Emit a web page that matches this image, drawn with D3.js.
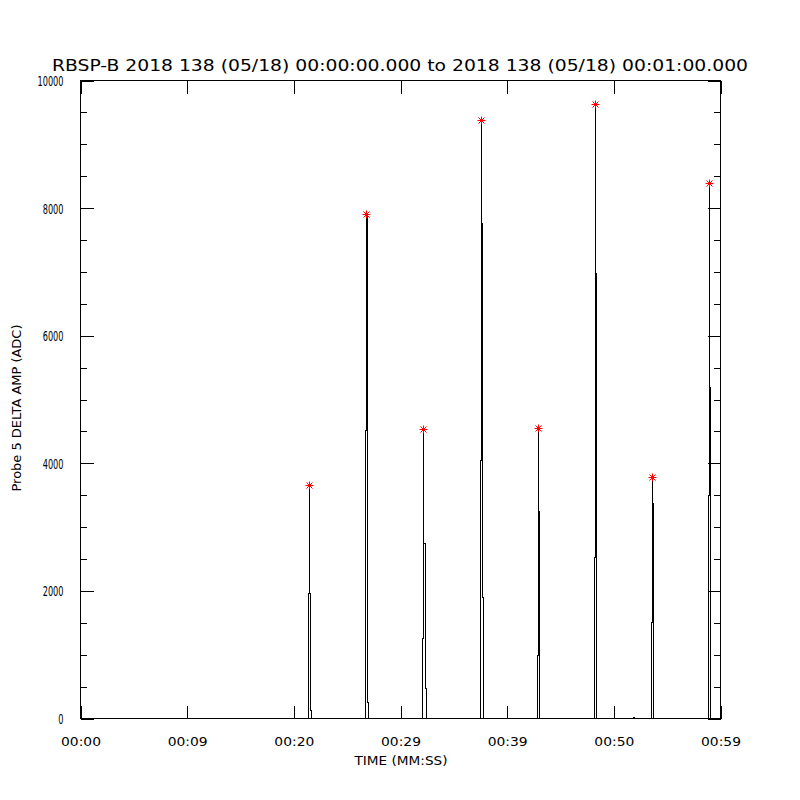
<!DOCTYPE html>
<html>
<head>
<meta charset="utf-8">
<script src="https://cdn.jsdelivr.net/npm/d3@7"></script>
<style>
  html, body { margin: 0; padding: 0; background: #ffffff; }
  svg text { font-family: "DejaVu Sans", sans-serif; fill: #000; }
</style>
</head>
<body>
<svg id="chart" width="800" height="800"></svg>
<script>
// ---- Data ----
const titleText = "RBSP-B 2018 138 (05/18) 00:00:00.000 to 2018 138 (05/18) 00:01:00.000";
const xAxisTitle = "TIME (MM:SS)";
const yAxisTitle = "Probe 5 DELTA AMP (ADC)";

const timeTickValues = [0, 10, 20, 30, 40, 50, 60];            // seconds
const timeTickLabels = ["00:00", "00:09", "00:20", "00:29", "00:39", "00:50", "00:59"];
const ampTickValues = [0, 2000, 4000, 6000, 8000, 10000];
const ampMinorTickValues = [500, 1000, 1500, 2500, 3000, 3500, 4500, 5000, 5500,
                            6500, 7000, 7500, 8500, 9000, 9500];

// burst peak times (s) and the sampled amplitudes around each burst
const burstTimes  = [21.50, 26.82, 32.20, 37.58, 42.90, 48.30, 53.60, 58.99];
const burstPeaks  = [3652, 7900, 4530, 9373, 4545, 9624, 3777, 8385];
const burstRise   = [1960, 4510, 1250, 4045, 990, 2520, 1500, 3500];   // level reached by the rising sample
const burstFall1  = [1960, 7900, 2740, 7760, 3250, 6975, 3370, 5190];  // first falling sample
const burstFall2  = [125, 250, 470, 1900, 0, 0, 0, 0];                 // second falling sample
// sample time offsets (s) from the peak time, in the order rise..fall
const burstOffsets = [-0.1, -0.1, 0, 0, 0, 0.1, 0.1, 0.2, 0.2];

const blipTimes  = [51.85, 51.95];
const blipValues = [20, 20];

// ---- Build the sampled series from the arrays ----
const series = [{t: 0, v: 0}];
burstTimes.forEach((t, i) => {
  const vals = [0, burstRise[i], burstRise[i], burstPeaks[i], burstFall1[i],
                burstFall1[i], burstFall2[i], burstFall2[i], 0];
  burstOffsets.forEach((o, k) => series.push({t: t + o, v: vals[k]}));
  if (i === 5) {
    series.push({t: blipTimes[0], v: 0});
    blipTimes.forEach((bt, j) => series.push({t: bt, v: blipValues[j]}));
    series.push({t: blipTimes[1], v: 0});
  }
});
series.push({t: 60, v: 0});
const peaks = burstTimes.map((t, i) => ({t: t, v: burstPeaks[i]}));

// ---- Layout ----
const plot = {left: 80, right: 720, top: 80, bottom: 718};
const majorLen = 13, minorLen = 6.5;

const svg = d3.select("#chart");
const x = d3.scaleLinear().domain([0, 60]).range([plot.left, plot.right]);
const y = d3.scaleLinear().domain([0, 10000]).range([plot.bottom, plot.top]);

const g = svg.append("g").attr("shape-rendering", "crispEdges");

// frame
g.append("rect")
  .attr("x", plot.left + 0.5).attr("y", plot.top + 0.5)
  .attr("width", plot.right - plot.left).attr("height", plot.bottom - plot.top)
  .attr("fill", "none").attr("stroke", "#000").attr("stroke-width", 1);

// axes via d3 axis generators (ticks pointing inward)
const xBottom = d3.axisBottom(x).tickValues(timeTickValues)
  .tickFormat((d, i) => timeTickLabels[i]).tickSizeInner(-majorLen).tickSizeOuter(0).tickPadding(18);
const xTop = d3.axisTop(x).tickValues(timeTickValues).tickFormat("").tickSizeInner(-majorLen).tickSizeOuter(0);
const yLeft = d3.axisLeft(y).tickValues(ampTickValues).tickFormat(d3.format("d"))
  .tickSizeInner(-majorLen).tickSizeOuter(0).tickPadding(17);
const yLeftMinor = d3.axisLeft(y).tickValues(ampMinorTickValues).tickFormat("").tickSizeInner(-minorLen).tickSizeOuter(0);
const yRight = d3.axisRight(y).tickValues(ampTickValues).tickFormat("").tickSizeInner(-majorLen).tickSizeOuter(0);
const yRightMinor = d3.axisRight(y).tickValues(ampMinorTickValues).tickFormat("").tickSizeInner(-minorLen).tickSizeOuter(0);

function styleAxis(sel) {
  sel.select(".domain").remove();
  sel.selectAll(".tick line").attr("stroke", "#000");
  sel.selectAll(".tick text").attr("fill", "#000").attr("font-family", "DejaVu Sans, sans-serif");
}

const gxb = g.append("g").attr("transform", `translate(0.5,${plot.bottom + 0.5})`).call(xBottom).call(styleAxis);
gxb.selectAll(".tick text").attr("font-size", 13).attr("textLength", 40).attr("lengthAdjust", "spacingAndGlyphs");
g.append("g").attr("transform", `translate(0.5,${plot.top + 0.5})`).call(xTop).call(styleAxis);
const gyl = g.append("g").attr("transform", `translate(${plot.left + 0.5},0.5)`).call(yLeft).call(styleAxis);
gyl.selectAll(".tick text").attr("font-size", 14).attr("dy", "0.36em")
  .attr("textLength", d => String(d).length * 5.2)
  .attr("lengthAdjust", "spacingAndGlyphs");
g.append("g").attr("transform", `translate(${plot.left + 0.5},0.5)`).call(yLeftMinor).call(styleAxis);
g.append("g").attr("transform", `translate(${plot.right + 0.5},0.5)`).call(yRight).call(styleAxis);
g.append("g").attr("transform", `translate(${plot.right + 0.5},0.5)`).call(yRightMinor).call(styleAxis);

// data line
const line = d3.line().x(d => Math.round(x(d.t)) + 0.5).y(d => y(d.v) + 0.5);
g.append("path").datum(series)
  .attr("d", line).attr("fill", "none").attr("stroke", "#000").attr("stroke-width", 1);

// red asterisk peak markers
const r = 4;
const stars = svg.append("g").selectAll("g.star").data(peaks).join("g")
  .attr("class", "star")
  .attr("transform", d => `translate(${Math.round(x(d.t)) + 0.5},${Math.round(y(d.v)) + 0.5})`);
[[-r, 0, r, 0], [0, -r, 0, r], [-r * 0.75, -r * 0.75, r * 0.75, r * 0.75], [-r * 0.75, r * 0.75, r * 0.75, -r * 0.75]]
  .forEach(s => stars.append("line")
    .attr("x1", s[0]).attr("y1", s[1]).attr("x2", s[2]).attr("y2", s[3])
    .attr("stroke", "#ff0000").attr("stroke-width", 1));

// titles
svg.append("text").attr("x", 400).attr("y", 71).attr("text-anchor", "middle")
  .attr("font-size", 15.5).attr("textLength", 696).attr("lengthAdjust", "spacingAndGlyphs")
  .text(titleText);
svg.append("text").attr("x", 401).attr("y", 765).attr("text-anchor", "middle")
  .attr("font-size", 13).attr("textLength", 93).attr("lengthAdjust", "spacingAndGlyphs")
  .text(xAxisTitle);
svg.append("text").attr("transform", "translate(21,408) rotate(-90)").attr("text-anchor", "middle")
  .attr("font-size", 13).attr("textLength", 167).attr("lengthAdjust", "spacingAndGlyphs")
  .text(yAxisTitle);
</script>
</body>
</html>
